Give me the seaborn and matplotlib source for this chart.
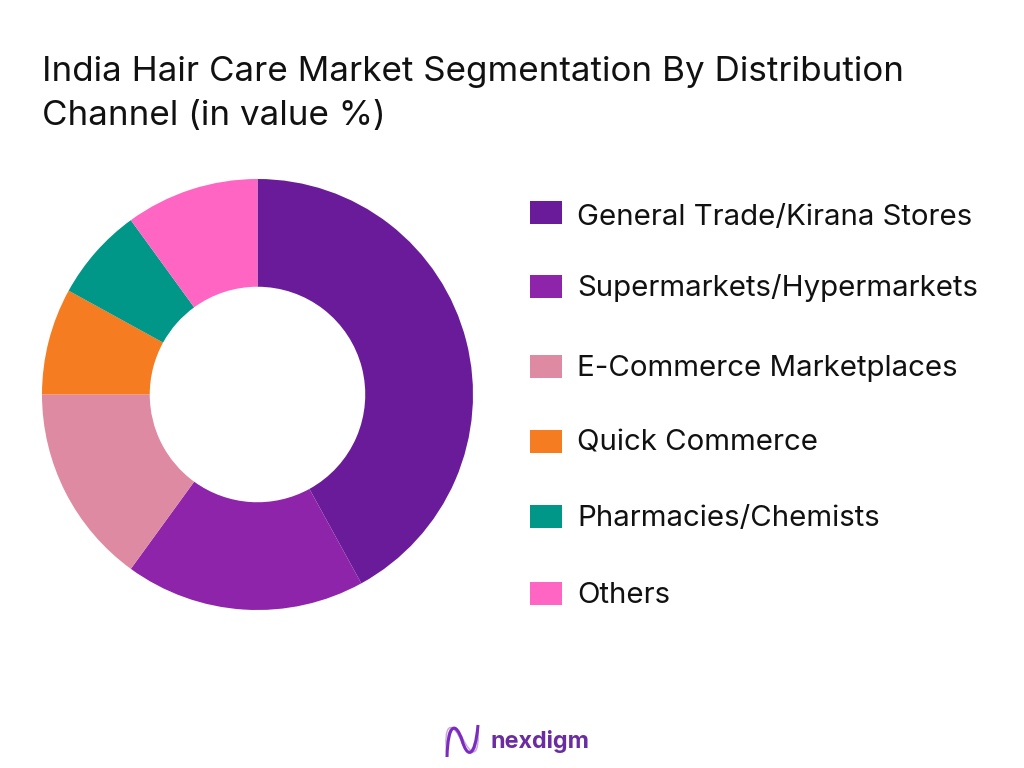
import matplotlib
matplotlib.use('Agg')
import matplotlib.pyplot as plt
import seaborn as sns
from matplotlib.patches import Rectangle, PathPatch
from matplotlib.path import Path

channels = ['General Trade/Kirana Stores', 'Supermarkets/Hypermarkets', 'E-Commerce Marketplaces',
            'Quick Commerce', 'Pharmacies/Chemists', 'Others']
shares = [42, 18, 15, 8, 7, 10]
colors = ['#6a1b9a', '#8e24aa', '#de8aa3', '#f57c20', '#009688', '#ff66c4']
swatch_y = [212, 286, 366, 441, 516, 593]
label_base = [225, 296, 376, 451, 526, 603]

sns.set_theme(style='white')
plt.rcParams['font.family'] = ['Inter', 'DejaVu Sans']

fig = plt.figure(figsize=(10.24, 7.68), dpi=100)
W, H = 1024, 768

# pie goes in an axes sized to the donut in the picture
ax = fig.add_axes([42 / W, 1 - 610 / H, 431 / W, 431 / H])
ax.pie(shares, colors=colors, startangle=90, counterclock=False, radius=1,
       wedgeprops=dict(width=0.5, linewidth=0))
ax.set_xlim(-1, 1)
ax.set_ylim(-1, 1)

fig.text(42 / W, 1 - 81 / H, 'India Hair Care Market Segmentation By Distribution', fontsize=25.2,
         va='baseline', color='#111111')
fig.text(42 / W, 1 - 125 / H, 'Channel (in value %)', fontsize=25.2, va='baseline', color='#111111')

for name, col, y, base in zip(channels, colors, swatch_y, label_base):
    fig.add_artist(Rectangle((530 / W, 1 - (y + 12) / H), 32 / W, 23 / H, color=col, lw=0,
                             transform=fig.transFigure))
    fig.text(577 / W, 1 - base / H, name, fontsize=21.2, va='baseline', color='#111111')


def wave(dx, sag, col, lw):
    # strand of the logo: up the left side, down across, up the right side
    pts = [(447, 757), (444 + dx, 722), (452 + dx, 722), (462, 740 + sag),
           (471 - dx, 758), (479 - dx, 759), (478, 725)]
    pts = [(px / W, 1 - py / H) for px, py in pts]
    codes = [Path.MOVETO] + [Path.CURVE4] * 6
    fig.add_artist(PathPatch(Path(pts, codes), fill=False, edgecolor=col, lw=lw,
                             transform=fig.transFigure))


wave(-1, -3, '#c9a6dc', 1)
wave(2, 3, '#b98ad6', 1)
wave(4, 0, '#7b2cbf', 2.2)

# footer logo text
fig.text(490 / W, 1 - 748 / H, 'nexdigm', fontsize=16.8, fontweight='bold', va='baseline', color='#6a2c9e')

fig.savefig('out.png', dpi=100)
